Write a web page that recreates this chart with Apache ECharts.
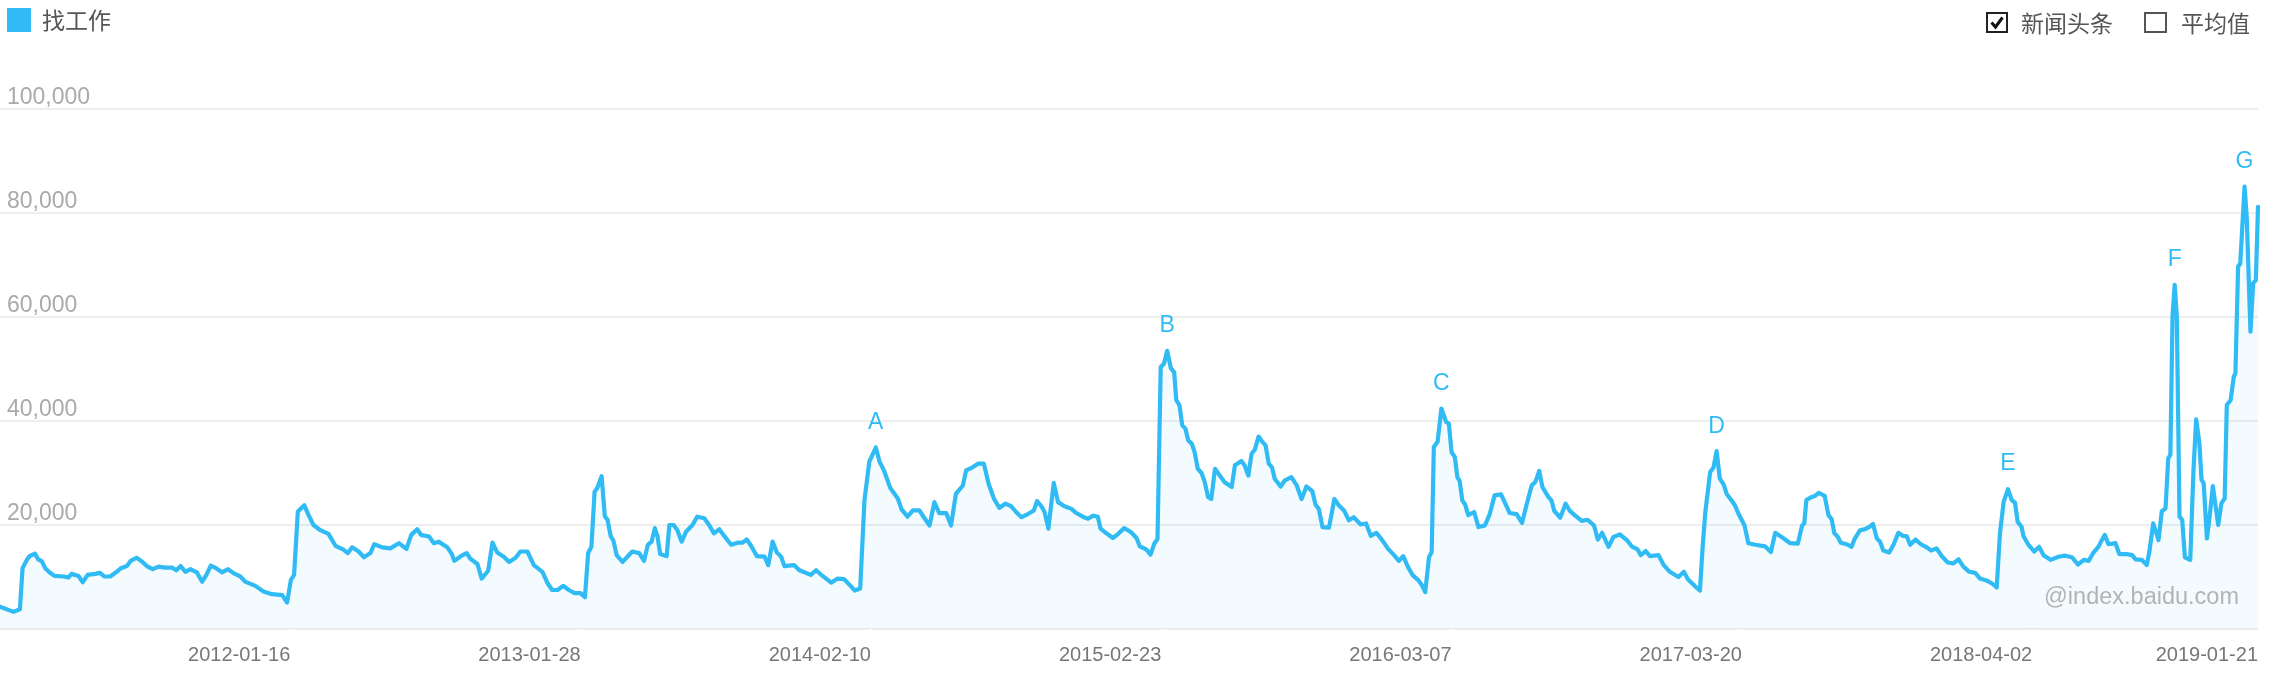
<!DOCTYPE html>
<html><head><meta charset="utf-8">
<script src="https://cdn.jsdelivr.net/npm/echarts@6/dist/echarts.min.js"></script>
<style>html,body{margin:0;padding:0;background:#fff}#c{width:2276px;height:673px}</style>
</head><body><div id="c"></div>
<script>
const seriesName = '找工作';
// week offset from 2011-01-03
const weeks = [0,2.5,3.7,4.2,5,5.5,6.5,7.1,7.8,8.4,9.3,10.2,11.8,12.7,13.3,14.6,15.4,16.3,17.7,18.6,19.4,20.5,21.7,22.5,23.6,24.3,25.4,26.4,27.3,28.4,29.5,30.7,32,32.8,33.6,34.5,35.4,36.6,37.6,38.4,39.2,40.2,41.3,42.4,43.5,44.7,45.6,47.5,49,50.6,52.5,53.4,54.1,54.7,55.4,56.6,57.4,58.3,59.6,61.1,62.4,63.8,64.7,65.5,66.7,67.7,68.9,69.6,71.1,72.6,74.2,75.6,76.5,77.6,78.3,79.8,80.7,81.6,83.2,
84,84.5,85.7,86.8,87.5,88.8,89.6,90.8,91.6,92.5,93.7,94.7,95.9,96.8,98.1,99.3,100.9,101.8,102.7,103.7,104.8,105.8,106.9,108,108.8,109.4,110,110.6,111.1,111.9,112.5,113,113.6,114.1,114.7,115.8,116.7,117.6,118.9,119.8,120.5,121.2,121.8,122.3,122.8,124,124.5,125.3,126,126.8,127.6,128.8,129.7,131,131.9,132.8,133.8,134.7,136,137.2,138.1,138.9,139.7,140.8,142.2,142.9,143.7,144.5,145.3,145.9,147.7,148.7,150.8,151.8,153,154.6,155.8,157,158.2,159,160,160.8,161.7,162.9,163.6,164.5,165.6,167,167.7,
168.8,169.8,171,171.9,172.9,173.8,174.7,176,176.9,177.8,179.1,179.7,180.9,181.9,183,183.9,184.9,185.9,187,188.1,189,190,191.2,192.3,192.9,193.7,194.3,195,196,196.8,198,199.3,200.2,201.4,202.4,203.3,204.2,204.7,205.8,207,208,209.1,210.4,211.4,212,213.2,214,214.7,215.3,215.9,216.5,217.1,217.8,218.4,218.8,219.4,219.9,220.5,221,221.7,222.2,222.8,223.5,224.1,224.7,225.3,226,226.9,227.8,229.1,229.7,230.9,231.5,232.2,232.8,233.4,234.1,234.8,235.4,236,236.6,237.1,238.2,239,240.2,241.2,242.1,243,244.1,244.7,245.3,246,247.2,248.2,249,250,250.9,251.8,
252.1,253.1,254.1,255,256,257.1,258.2,259.3,260.2,261,261.9,262.8,263.8,264.5,265.1,265.8,266.3,266.7,267.4,268.1,269,269.5,270,270.6,271.1,271.5,272,272.5,273.1,274.2,275,276.2,277.1,278,279.2,280,280.8,282.1,283.1,284,284.9,285.6,286.3,286.9,288,288.6,289.1,290.2,291.2,292,292.9,294.2,295.3,296.5,297.2,298,299.2,300.1,301.3,302.6,303.5,304.6,305.2,306.1,306.9,308.5,309.4,310.6,312.2,313.2,314,315.3,316.2,316.7,317.2,318.1,318.7,319.3,319.9,320.6,321.2,322.1,322.7,323.4,324.5,325.2,326.5,328.3,329.4,330.2,331.4,333,334.4,335.2,
335.6,336,337,337.6,338.3,339.4,340.1,340.7,341.2,341.8,342.4,343.5,344.4,345,346,346.9,347.8,348.4,349.1,349.7,350.3,351.4,352.2,353.1,354,354.7,355.3,356.3,357.3,358.2,359.2,360.2,361.2,362.3,363.3,364.3,365.2,366.3,367.4,368.3,369.6,370.6,371.4,372,372.7,373.5,374.2,374.8,375.3,376,376.4,377.3,378.4,379.3,380.1,381.4,382.9,384.1,385.4,386.5,387.6,388.5,389.4,390.3,390.8,391.5,392.2,393.5,394.2,395.6,396.6,397.2,398.4,399.3,399.8,400.5,401.5,402.1,402.8,403.3,403.7,404.1,404.5,404.9,405.4,405.9,406.4,407.4,408,408.5,409.1,409.5,409.9,410.5,411,411.6,412.6,413.2,413.8,414.2,414.9,415.5,415.8,416.3,416.7,417.5,417.9,418.6,419.1,419.6,420];
const values = [4300,3300,3800,11700,13300,14000,14500,13400,13000,11700,10800,10200,10100,9900,10600,10200,9000,10400,10600,10800,10100,10100,11000,11700,12100,13100,13700,13000,12100,11500,12000,11800,11800,11300,12100,11000,11500,10900,9100,10400,12200,11700,10900,11500,10700,10100,9100,8300,7200,6700,6500,5100,9400,10400,22600,23800,21900,20000,19000,18300,16000,15300,14600,15700,14900,13800,14600,16300,15700,15500,16500,15400,18100,19200,18100,17800,16500,16800,15700,
14500,13100,14000,14600,13500,12500,9700,11200,16600,14700,13900,12900,13700,14900,14900,12300,11000,8900,7500,7500,8300,7500,6900,6900,6100,14600,15800,26400,27100,29400,21700,21000,17800,17000,14200,12900,13900,14900,14600,13100,16200,16800,19400,17800,14400,14000,20000,20000,19000,16800,18700,20000,21600,21300,20000,18400,19200,17900,16200,16600,16600,17200,16000,14000,13900,12300,16800,14700,13900,12100,12300,11300,10400,11300,10200,8900,9700,9600,8300,7400,7800,24800,32200,34900,32200,30300,27100,25100,23000,
21600,22800,22800,21400,19900,24400,22300,22300,19900,26000,27600,30500,31100,31800,31800,27900,25000,23300,24100,23600,22500,21500,22100,22800,24600,23600,22500,19300,28100,24400,23600,23100,22300,21600,21200,21800,21600,19300,18400,17500,18300,19400,18600,17500,15900,15300,14300,16400,17300,50400,51000,53500,50100,49400,44000,43000,39200,38500,36300,35600,34000,30800,30000,28200,25400,25000,30800,29500,28200,27300,31500,32300,31500,29500,33700,34500,37000,36000,35300,31800,31100,28900,27400,28600,29200,27600,25000,27400,26500,23900,23100,19600,19500,25000,23800,22800,20900,21500,
21700,20100,20300,17900,18500,17100,15400,14200,13100,14000,11900,10300,9400,8400,7100,13800,14800,35000,36000,42400,39800,39500,34000,33100,29100,28500,24700,24000,21900,22500,19600,19900,22100,25700,25900,24100,22300,22100,20400,24100,27600,28300,30400,27300,25400,24700,22700,21400,24100,22700,21900,20800,21000,19900,17200,18500,15800,17700,18200,17100,15900,15300,14200,15000,14000,14200,12400,11000,10000,11000,9500,8200,7400,15800,22500,30200,31000,34200,28900,27800,25900,24700,23800,22100,19900,16500,16200,15900,14800,18500,17700,16500,16400,19900,
20300,24800,25400,25600,26200,25600,21900,21100,18400,17800,16600,16300,15800,17400,19000,19200,19700,20200,17400,16800,15100,14700,16200,18500,17900,17800,16200,17200,16300,15800,15100,15500,14000,12800,12600,13400,12000,11000,10800,9700,9300,8700,8000,18400,24500,26900,24800,24300,20600,19700,17800,16200,14900,15800,14200,13300,13900,14100,13800,12400,13300,13100,14700,15800,16800,18100,16300,16500,14400,14400,14200,13400,13300,12300,14900,20300,17100,22600,23200,32800,33500,60100,66200,60100,21600,21000,13800,13300,30600,40300,35700,28700,28000,17400,21600,27500,20000,24200,25100,43100,44000,48500,49200,69700,70300,85100,79300,57200,66500,67100,81200];

const tickWeeks = [54,108,162,216,270,324,378,420];
const tickLabels = ['2012-01-16','2013-01-28','2014-02-10','2015-02-23','2016-03-07','2017-03-20','2018-04-02','2019-01-21'];
const peakLetters = ['A','B','C','D','E','F','G'];
const peakNear = [163,217,268,319,373.5,404.5,417.5];

const BLUE = '#30bbf5';
const LATIN = '"Helvetica Neue", Helvetica, Arial, "Liberation Sans", "Noto Sans CJK SC", sans-serif';
const CJK = '"Noto Sans CJK SC", "Helvetica Neue", Arial, sans-serif';

const lineData = weeks.map((w, i) => [w, values[i]]);
const markData = peakLetters.map((L, k) => {
  let best = -1;
  weeks.forEach((w, i) => {
    if (Math.abs(w - peakNear[k]) <= 2 && (best < 0 || values[i] > values[best])) best = i;
  });
  return { name: L, coord: [weeks[best], values[best]] };
});

const chart = echarts.init(document.getElementById('c'), null, { renderer: 'canvas' });
chart.setOption({
  animation: false,
  backgroundColor: '#fff',
  textStyle: { fontFamily: LATIN },
  legend: {
    data: [seriesName], left: 7, top: 8, icon: 'rect', itemWidth: 24, itemHeight: 24,
    selectedMode: false, padding: 0,
    textStyle: { fontSize: 23, color: '#555', fontFamily: CJK, padding: [0, 0, 0, 6] }
  },
  grid: { left: 0, right: 18, top: 109, bottom: 44, containLabel: false },
  xAxis: {
    type: 'value', min: 0, max: 420, interval: 54,
    axisLine: { show: true, lineStyle: { color: '#eeeeee', width: 2 } },
    axisTick: { show: true, length: 5, lineStyle: { color: '#ffffff', width: 2 } },
    splitLine: { show: false },
    axisLabel: {
      showMinLabel: false, showMaxLabel: true, align: 'right', margin: 16,
      fontSize: 20, color: '#777', fontFamily: LATIN,
      formatter: v => { const i = tickWeeks.indexOf(v); return i >= 0 ? tickLabels[i] : ''; }
    }
  },
  yAxis: {
    type: 'value', min: 0, max: 100000, interval: 20000,
    axisLine: { show: false }, axisTick: { show: false },
    splitLine: { lineStyle: { color: '#eeeeee', width: 2 } },
    axisLabel: {
      inside: true, margin: 7, verticalAlign: 'bottom', showMinLabel: false,
      fontSize: 23, color: '#aaaaaa', fontFamily: LATIN,
      formatter: v => v.toLocaleString('en-US')
    }
  },
  series: [{
    name: seriesName, type: 'line', data: lineData, symbol: 'none', smooth: false,
    color: BLUE,
    lineStyle: { color: BLUE, width: 4.2, join: 'round', cap: 'round' },
    areaStyle: { color: 'rgba(49,186,244,0.08)' },
    markPoint: {
      symbol: 'circle', symbolSize: 1, itemStyle: { color: 'rgba(0,0,0,0)' },
      label: { show: true, position: 'top', distance: 13, formatter: '{b}', color: BLUE, fontSize: 23, fontFamily: LATIN },
      data: markData
    }
  }],
  graphic: [
    { type: 'rect', shape: { x: 1987, y: 13, width: 20, height: 19 }, style: { fill: '#fff', stroke: '#222', lineWidth: 2 } },
    { type: 'polyline', shape: { points: [[1991.5, 22.5], [1995.5, 27], [2002.5, 17.5]] }, style: { fill: null, stroke: '#111', lineWidth: 3 } },
    { type: 'text', x: 2021, y: 23, style: { text: '新闻头条', fontSize: 23, fontFamily: CJK, fill: '#555', verticalAlign: 'middle' } },
    { type: 'rect', shape: { x: 2145, y: 13, width: 21, height: 19 }, style: { fill: '#fff', stroke: '#555', lineWidth: 2 } },
    { type: 'text', x: 2181, y: 23, style: { text: '平均值', fontSize: 23, fontFamily: CJK, fill: '#555', verticalAlign: 'middle' } },
    { type: 'text', x: 2239, y: 598, z: 10, style: { text: '@index.baidu.com', fontSize: 23.5, fontFamily: LATIN, fill: '#b3b3b3', align: 'right', verticalAlign: 'middle' } }
  ]
});
</script></body></html>
